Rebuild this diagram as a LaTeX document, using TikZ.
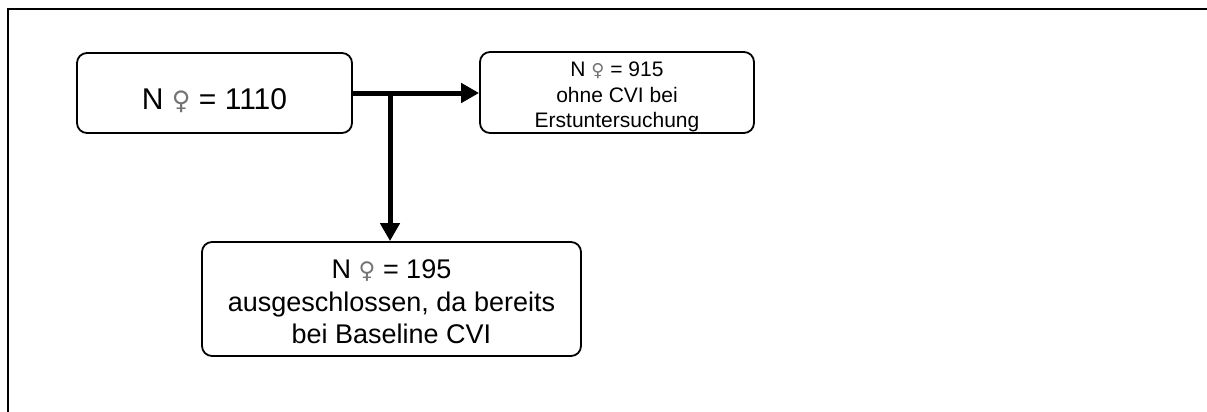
\documentclass[tikz,border=0pt]{standalone}
\usepackage{fontspec}
\setmainfont{Liberation Sans}
\newfontfamily\symfont{DejaVu Sans}
\usetikzlibrary{arrows.meta}
\newcommand{\fem}{{\symfont\color{black!55}\scalebox{0.85}{♀}}}
\begin{document}
\begin{tikzpicture}[x=1pt,y=-1pt,
  box/.style={draw,line width=1.8pt,rounded corners=10pt,align=center,inner sep=0pt},
  arr/.style={line width=5pt,-{Triangle[length=18pt,width=19pt]}},
  frame/.style={line width=2pt}]
\useasboundingbox (0,0) rectangle (1207,412);
\draw[frame] (8,412) -- (8,9.5) -- (1207,9.5);
\node[box,minimum width=275pt,minimum height=80pt,text height=32pt,text depth=0pt,
  font=\fontsize{30}{36}\selectfont] (b1) at (214.5,93) {N \fem{} = 1110};
\node[box,minimum width=274pt,minimum height=81pt,
  font=\fontsize{21}{25.5}\selectfont] (b2) at (617,92.5) {\rule{0pt}{24pt}N \fem{} = 915\\ohne CVI bei\\Erstuntersuchung};
\node[box,minimum width=379pt,minimum height=114pt,
  font=\fontsize{27}{32.5}\selectfont] (b3) at (391.5,299) {\rule{0pt}{25pt}N \fem{} = 195\\ausgeschlossen, da bereits\\bei Baseline CVI};
\coordinate (j) at (390,93);
\draw[arr] (b1.east) -- (b2.west |- b1.east);
\draw[arr] ([yshift=-2.5pt]j) -- (j |- b3.north);
\end{tikzpicture}
\end{document}
